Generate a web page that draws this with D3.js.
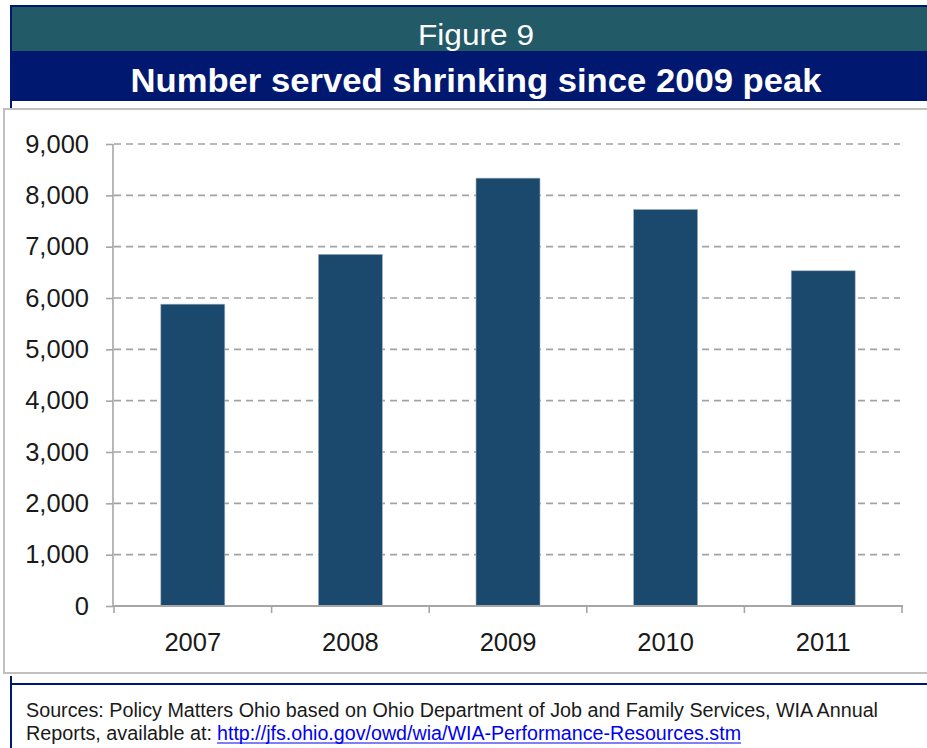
<!DOCTYPE html>
<html>
<head>
<meta charset="utf-8">
<script src="https://cdn.jsdelivr.net/npm/d3@7"></script>
<style>
  html, body { margin: 0; padding: 0; background: #fff; }
  svg { display: block; font-family: "Liberation Sans", Arial, sans-serif; }
</style>
</head>
<body>
<svg id="fig" width="927" height="748"></svg>
<script>
// Participants served per program year
const years = ["2007", "2008", "2009", "2010", "2011"];
const served = [5880, 6850, 8335, 7725, 6530];
const yTicks = [0, 1000, 2000, 3000, 4000, 5000, 6000, 7000, 8000, 9000];

const figureLabel = "Figure 9";
const title = "Number served shrinking since 2009 peak";
const sourceLine1 = "Sources: Policy Matters Ohio based on Ohio Department of Job and Family Services, WIA Annual";
const sourceLine2 = "Reports, available at: ";
const sourceUrl = "http://jfs.ohio.gov/owd/wia/WIA-Performance-Resources.stm";

const navy = "#00186f";
const teal = "#225a68";
const barColor = "#1b496d";
const axisGray = "#a6a6a6";

const svg = d3.select("#fig");

// Header bands
svg.append("rect").attr("x", 12).attr("y", 7).attr("width", 915).attr("height", 44).attr("fill", teal);
svg.append("rect").attr("x", 12).attr("y", 51).attr("width", 915).attr("height", 50).attr("fill", navy);
// Navy frame lines around the header
svg.append("rect").attr("x", 10).attr("y", 5).attr("width", 917).attr("height", 2).attr("fill", navy);
svg.append("rect").attr("x", 10).attr("y", 5).attr("width", 2).attr("height", 104).attr("fill", navy);

svg.append("text")
  .attr("x", 476).attr("y", 45)
  .attr("text-anchor", "middle")
  .attr("fill", "#fff")
  .attr("font-size", 29)
  .attr("textLength", 116).attr("lengthAdjust", "spacingAndGlyphs")
  .text(figureLabel);

svg.append("text")
  .attr("x", 476).attr("y", 92)
  .attr("text-anchor", "middle")
  .attr("fill", "#fff")
  .attr("font-size", 34)
  .attr("font-weight", "bold")
  .attr("textLength", 691).attr("lengthAdjust", "spacingAndGlyphs")
  .text(title);

// Chart frame
svg.append("rect")
  .attr("x", 4).attr("y", 109).attr("width", 940).attr("height", 564)
  .attr("fill", "#fff").attr("stroke", "#c0c0c0").attr("stroke-width", 2);

// Scales
const x = d3.scaleBand()
  .domain(years)
  .range([114, 902])
  .paddingInner(0.594)
  .paddingOuter(0.297);

const y = d3.scaleLinear()
  .domain([0, 9000])
  .range([606, 144]);

// Dashed gridlines
svg.append("g")
  .selectAll("line")
  .data(yTicks.filter(d => d > 0))
  .join("line")
  .attr("x1", 114).attr("x2", 900)
  .attr("y1", d => y(d)).attr("y2", d => y(d))
  .attr("stroke", "#a3a3a3")
  .attr("stroke-width", 1.6)
  .attr("stroke-dasharray", "7,5");

// Bars
svg.append("g")
  .selectAll("rect")
  .data(years.map((yr, i) => ({ yr, v: served[i] })))
  .join("rect")
  .attr("x", d => x(d.yr))
  .attr("y", d => y(d.v))
  .attr("width", x.bandwidth())
  .attr("height", d => y(0) - y(d.v))
  .attr("fill", barColor)
  .attr("stroke", "#9fb2c4")
  .attr("stroke-width", 0.6);

// Y axis
const yAxis = svg.append("g")
  .attr("transform", "translate(113,0)")
  .call(d3.axisLeft(y).tickValues(yTicks).tickFormat(d3.format(",")).tickSize(7).tickPadding(17));
yAxis.select(".domain").attr("stroke", axisGray).attr("stroke-width", 1.6).attr("d", `M0,${y(9000)}V${y(0)}`);
yAxis.selectAll(".tick line").attr("stroke", axisGray).attr("stroke-width", 1.6);
yAxis.selectAll(".tick text")
  .attr("font-size", 25.5)
  .attr("font-family", "Liberation Sans, Arial, sans-serif")
  .attr("fill", "#1a1a1a");

// X axis with ticks on category boundaries
const xg = svg.append("g");
xg.append("line")
  .attr("x1", 113).attr("x2", 903)
  .attr("y1", y(0)).attr("y2", y(0))
  .attr("stroke", axisGray).attr("stroke-width", 1.8);
xg.selectAll("line.bound")
  .data(d3.range(years.length + 1))
  .join("line")
  .attr("class", "bound")
  .attr("x1", i => x.range()[0] + i * x.step())
  .attr("x2", i => x.range()[0] + i * x.step())
  .attr("y1", y(0)).attr("y2", y(0) + 7)
  .attr("stroke", axisGray).attr("stroke-width", 1.6);
xg.selectAll("text")
  .data(years)
  .join("text")
  .attr("x", d => x(d) + x.bandwidth() / 2)
  .attr("y", 651)
  .attr("text-anchor", "middle")
  .attr("font-size", 25.5)
  .attr("fill", "#1a1a1a")
  .text(d => d);

// Footer frame lines
svg.append("rect").attr("x", 10).attr("y", 683).attr("width", 917).attr("height", 2).attr("fill", navy);
svg.append("rect").attr("x", 10).attr("y", 676).attr("width", 2).attr("height", 72).attr("fill", navy);

// Source note
svg.append("text")
  .attr("x", 26).attr("y", 717)
  .attr("font-size", 20)
  .attr("fill", "#1a1a1a")
  .attr("textLength", 852).attr("lengthAdjust", "spacingAndGlyphs")
  .text(sourceLine1);

svg.append("text")
  .attr("x", 26).attr("y", 740)
  .attr("font-size", 20)
  .attr("fill", "#1a1a1a")
  .attr("textLength", 186).attr("lengthAdjust", "spacingAndGlyphs")
  .text(sourceLine2);

svg.append("text")
  .attr("x", 217).attr("y", 740)
  .attr("font-size", 20)
  .attr("fill", "#0000ee")
  .attr("textLength", 524).attr("lengthAdjust", "spacingAndGlyphs")
  .text(sourceUrl);
svg.append("line")
  .attr("x1", 217).attr("x2", 741)
  .attr("y1", 743).attr("y2", 743)
  .attr("stroke", "#0000ee").attr("stroke-width", 1.2);
</script>
</body>
</html>
